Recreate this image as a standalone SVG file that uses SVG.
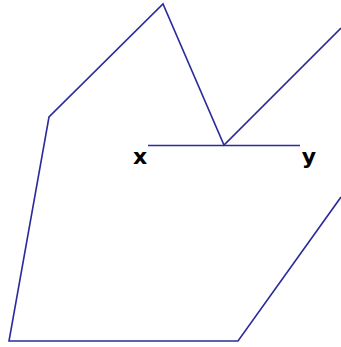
<svg xmlns="http://www.w3.org/2000/svg" width="341" height="347" viewBox="0 0 341 347">
<style>
.ln{fill:none;stroke:#2b2b9c;stroke-width:1.6;stroke-linejoin:miter}
.lb{font-family:"DejaVu Sans","Liberation Sans",sans-serif;font-size:22px;font-weight:bold;fill:#000}
</style>
<rect width="341" height="347" fill="#fff"/>
<g id="connectors">
<polyline class="ln" points="341,197 238,341 9,341 49,117 163,4 224,145 341,28"/>
<line class="ln" x1="148" y1="145.5" x2="300" y2="145.5"/>
</g>
<g id="label-x"><text class="lb" x="140" y="164" text-anchor="middle">x</text></g>
<g id="label-y"><text class="lb" x="309" y="164" text-anchor="middle">y</text></g>
</svg>
